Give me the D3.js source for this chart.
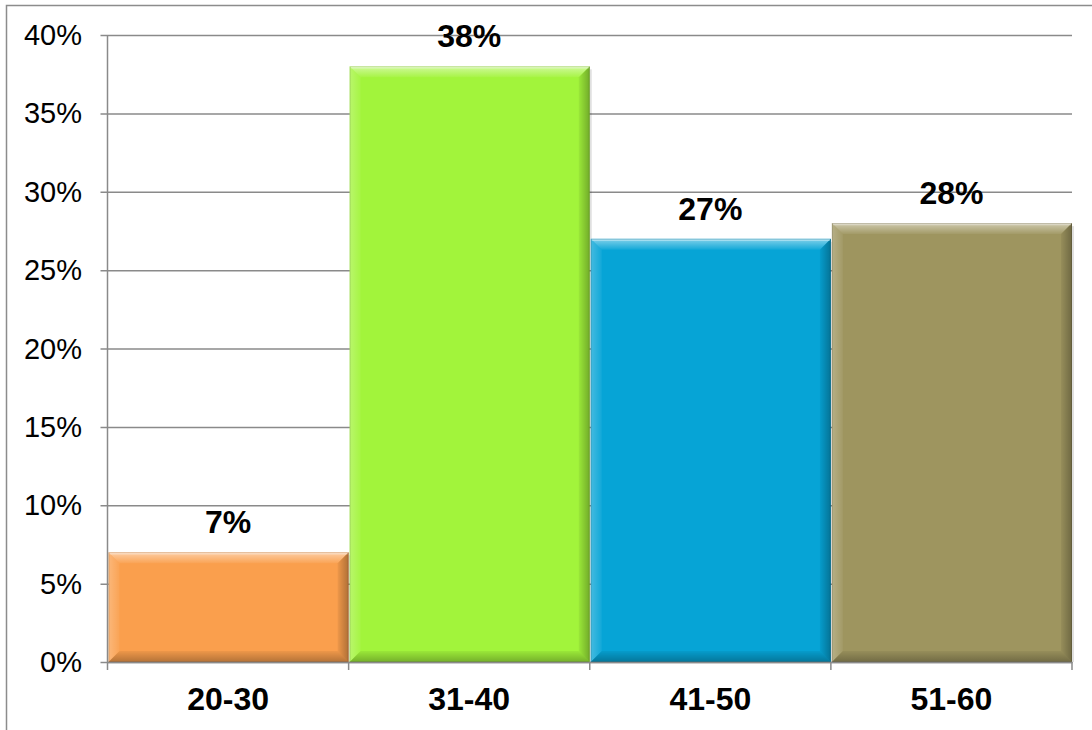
<!DOCTYPE html>
<html>
<head>
<meta charset="utf-8">
<script src="https://cdn.jsdelivr.net/npm/d3@7"></script>
<style>
  html, body { margin: 0; padding: 0; background: #fff; }
  svg { display: block; }
  text { font-family: "Liberation Sans", Arial, sans-serif; fill: #000; }
</style>
</head>
<body>
<svg id="chart" width="1092" height="730"></svg>
<script>
// Age groups and their share of respondents
const categories = ["20-30", "31-40", "41-50", "51-60"];
const values = [7, 38, 27, 28];
const colors = ["#FA9F4D", "#A2F43B", "#06A4D6", "#9E955F"];
const yTicks = [0, 5, 10, 15, 20, 25, 30, 35, 40];

const W = 1092, H = 730;
const plot = { left: 107.5, right: 1072, top: 35, bottom: 662 };

const svg = d3.select("#chart");

// Chart frame
svg.append("rect")
  .attr("x", 6.5).attr("y", 5.5)
  .attr("width", W + 20).attr("height", H + 20)
  .attr("fill", "none").attr("stroke", "#8c8c8c").attr("stroke-width", 1.5);

const x = d3.scaleBand().domain(categories).range([plot.left, plot.right]).padding(0);
const y = d3.scaleLinear().domain([0, 40]).range([plot.bottom, plot.top]);

// Horizontal gridlines with left tick stubs
const yAxis = d3.axisLeft(y)
  .tickValues(yTicks)
  .tickSize(-(plot.right - plot.left))
  .tickFormat("");
const yg = svg.append("g").attr("transform", `translate(${plot.left},0)`).call(yAxis);
yg.select(".domain").remove();
yg.selectAll(".tick line")
  .attr("x1", -7)
  .attr("stroke", "#8a8a8a").attr("stroke-width", 1.5);

// Tick labels on the value axis
svg.append("g").selectAll("text").data(yTicks).join("text")
  .attr("x", 82).attr("y", d => y(d) + 10)
  .attr("text-anchor", "end")
  .attr("font-size", 29)
  .text(d => d + "%");

// Bevel gradients
const defs = svg.append("defs");
function grad(id, x1, y1, x2, y2, color, op) {
  const g = defs.append("linearGradient").attr("id", id)
    .attr("x1", x1).attr("y1", y1).attr("x2", x2).attr("y2", y2);
  g.append("stop").attr("offset", "0%").attr("stop-color", color).attr("stop-opacity", op);
  g.append("stop").attr("offset", "100%").attr("stop-color", color).attr("stop-opacity", 0.05);
}
grad("bevTop", 0, 0, 0, 1, "#ffffff", 0.5);
grad("bevLeft", 0, 0, 1, 0, "#ffffff", 0.25);
grad("bevRight", 1, 0, 0, 0, "#000000", 0.3);
grad("bevBottom", 0, 1, 0, 0, "#000000", 0.28);

const bw = 11;
const bars = svg.append("g").selectAll("g").data(values).join("g");

bars.each(function (v, i) {
  const g = d3.select(this);
  const x0 = x(categories[i]) + 1, x1 = x(categories[i]) + x.bandwidth();
  const y0 = y(v), y1 = y(0);
  // soft drop shadow on the right side
  g.append("rect").attr("x", x1).attr("y", y0 + 3).attr("width", 2).attr("height", y1 - y0 - 3)
    .attr("fill", "#000").attr("opacity", 0.12);
  g.append("rect").attr("x", x0).attr("y", y0).attr("width", x1 - x0).attr("height", y1 - y0)
    .attr("fill", colors[i]);
  const poly = pts => pts.map(p => p.join(",")).join(" ");
  g.append("polygon").attr("points", poly([[x0, y0], [x1, y0], [x1 - bw, y0 + bw], [x0 + bw, y0 + bw]]))
    .attr("fill", "url(#bevTop)");
  g.append("polygon").attr("points", poly([[x0, y0], [x0 + bw, y0 + bw], [x0 + bw, y1 - bw], [x0, y1]]))
    .attr("fill", "url(#bevLeft)");
  g.append("polygon").attr("points", poly([[x1, y0], [x1, y1], [x1 - bw, y1 - bw], [x1 - bw, y0 + bw]]))
    .attr("fill", "url(#bevRight)");
  g.append("polygon").attr("points", poly([[x0, y1], [x1, y1], [x1 - bw, y1 - bw], [x0 + bw, y1 - bw]]))
    .attr("fill", "url(#bevBottom)");
  g.append("rect").attr("x", x0 + 0.5).attr("y", y0 + 0.5).attr("width", x1 - x0 - 1).attr("height", y1 - y0 - 1)
    .attr("fill", "none").attr("stroke", "#000").attr("stroke-opacity", 0.12).attr("stroke-width", 1);
  // top highlight line
  g.append("line").attr("x1", x0 + 1).attr("x2", x1 - 1).attr("y1", y0 + 1.5).attr("y2", y0 + 1.5)
    .attr("stroke", "#fff").attr("stroke-opacity", 0.35).attr("stroke-width", 1.5);
});

// Value labels
svg.append("g").selectAll("text").data(values).join("text")
  .attr("x", (d, i) => x(categories[i]) + x.bandwidth() / 2)
  .attr("y", d => y(d) - 19)
  .attr("text-anchor", "middle")
  .attr("font-size", 32).attr("font-weight", "bold")
  .text(d => d + "%");

// Category axis
const xAxis = d3.axisBottom(x).tickSize(0).tickFormat("");
const xg = svg.append("g").attr("transform", `translate(0,${plot.bottom})`).call(xAxis);
xg.select(".domain").attr("stroke", "#8a8a8a").attr("stroke-width", 1.5);
const bounds = categories.map(c => x(c)).concat([plot.right]);
svg.append("g").selectAll("line").data(bounds).join("line")
  .attr("x1", d => d).attr("x2", d => d)
  .attr("y1", plot.bottom).attr("y2", plot.bottom + 8)
  .attr("stroke", "#8a8a8a").attr("stroke-width", 1.5);
svg.append("g").selectAll("text").data(categories).join("text")
  .attr("x", d => x(d) + x.bandwidth() / 2)
  .attr("y", 710)
  .attr("text-anchor", "middle")
  .attr("font-size", 32).attr("font-weight", "bold")
  .text(d => d);

// Value axis line
svg.append("line")
  .attr("x1", plot.left).attr("x2", plot.left)
  .attr("y1", plot.top).attr("y2", plot.bottom)
  .attr("stroke", "#8a8a8a").attr("stroke-width", 1.5);
</script>
</body>
</html>
